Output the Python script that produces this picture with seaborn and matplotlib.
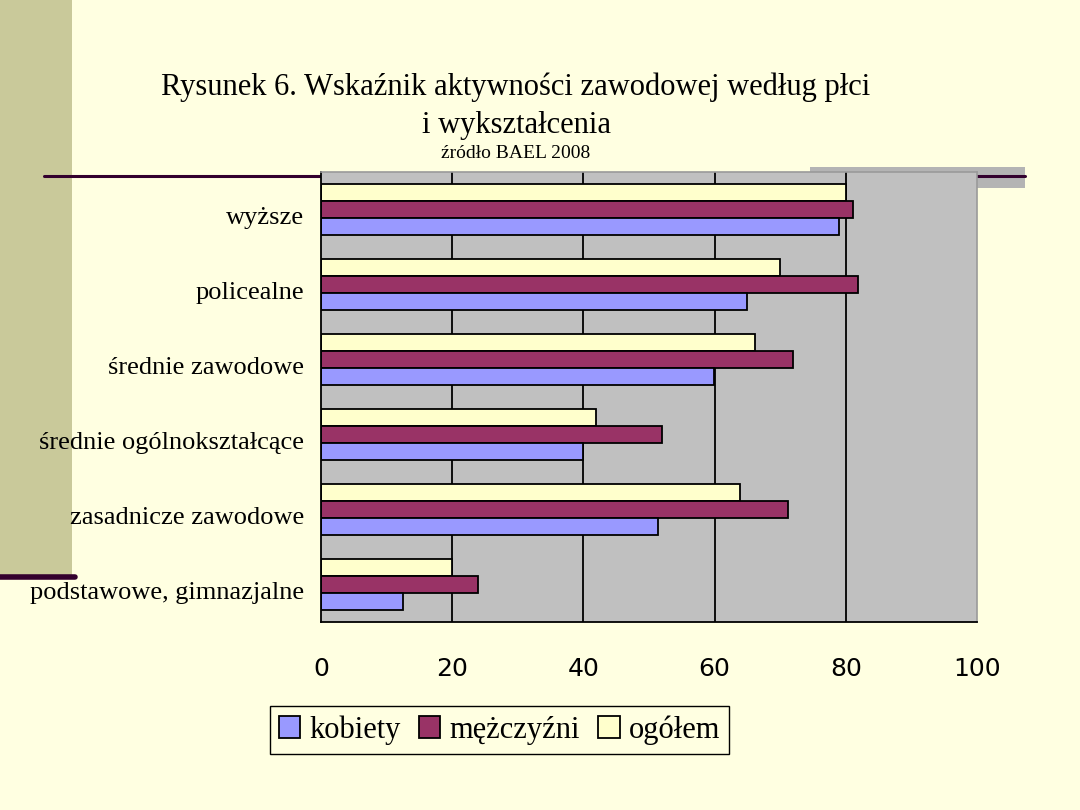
import matplotlib
matplotlib.use("Agg")
import matplotlib.pyplot as plt
import matplotlib.patches as mpatches
from matplotlib.lines import Line2D
from matplotlib.transforms import ScaledTranslation
import seaborn as sns
import pandas as pd

categories = ["wyższe", "policealne", "średnie zawodowe", "średnie ogólnokształcące",
              "zasadnicze zawodowe", "podstawowe, gimnazjalne"]
kobiety = [79.0, 65.0, 59.9, 40.0, 51.4, 12.5]
mezczyzni = [81.1, 81.9, 71.9, 52.0, 71.2, 24.0]
ogolem = [80.0, 70.0, 66.1, 41.9, 63.9, 19.9]
series_names = ["kobiety", "mężczyźni", "ogółem"]
x_ticks = [0, 20, 40, 60, 80, 100]

colors = {"kobiety": "#9999FF", "mężczyźni": "#993366", "ogółem": "#FFFFCC"}

rows = []
for name, vals in zip(series_names, [kobiety, mezczyzni, ogolem]):
    for c, v in zip(categories, vals):
        rows.append({"cat": c, "val": v, "series": name})
df = pd.DataFrame(rows)

sns.set_style("white")
plt.rcParams["font.family"] = ["Liberation Serif", "DejaVu Serif"]
plt.rcParams["text.color"] = "black"
plt.rcParams["xtick.color"] = "black"
plt.rcParams["ytick.color"] = "black"
plt.rcParams["axes.labelcolor"] = "black"

BG = "#FFFFE1"
fig = plt.figure(figsize=(10.8, 8.1), dpi=100, facecolor=BG)

# decorative slide elements
fig.patches.append(mpatches.Rectangle((0, 1 - 575 / 810), 72 / 1080, 575 / 810,
                                      transform=fig.transFigure, facecolor="#C9C99A",
                                      edgecolor="none", zorder=0))
fig.lines.append(Line2D([0, 75 / 1080], [1 - 577 / 810] * 2, transform=fig.transFigure,
                        color="#33002E", lw=4, zorder=1))
fig.patches.append(mpatches.Rectangle((810 / 1080, 1 - 188 / 810), 215 / 1080, 21 / 810,
                                      transform=fig.transFigure, facecolor="#B4B4B4",
                                      edgecolor="none", zorder=0))
fig.lines.append(Line2D([44 / 1080, 1025 / 1080], [1 - 176 / 810] * 2, transform=fig.transFigure,
                        color="#33002E", lw=2.2, zorder=1))

ax = fig.add_axes([321 / 1080, 1 - 622 / 810, 656 / 1080, 450 / 810], zorder=2)
ax.set_facecolor("#C0C0C0")

sns.barplot(data=df, y="cat", x="val", hue="series",
            hue_order=["ogółem", "mężczyźni", "kobiety"], order=categories,
            palette=colors, width=0.667, gap=0, edgecolor="black", linewidth=1.3,
            orient="h", ax=ax, legend=False, saturation=1)

ax.set_xlim(0, 100)
ax.set_ylim(len(categories) - 0.5, -0.5)
ax.set_xticks(x_ticks)
ax.set_xticklabels([str(t) for t in x_ticks], fontfamily="DejaVu Sans", fontsize=18)
ax.tick_params(axis="x", direction="out", length=6, width=1, color="black", pad=19)
ax.set_yticks(range(len(categories)))
ax.set_yticklabels(categories, fontsize=19)
ax.tick_params(axis="y", which="major", length=0, pad=12)
ax.set_yticks([i - 0.5 for i in range(len(categories) + 1)], minor=True)
ax.tick_params(axis="y", which="minor", direction="out", length=6, width=1, color="black")
ax.set_xlabel("")
ax.set_ylabel("")
shift = ScaledTranslation(0, -6 / 100, fig.dpi_scale_trans)
for lab in ax.get_yticklabels():
    lab.set_transform(lab.get_transform() + shift)

for x in x_ticks[1:-1]:
    ax.axvline(x, color="black", lw=1.3, zorder=0.5)
ax.set_axisbelow(True)

for s in ["left", "bottom"]:
    ax.spines[s].set_color("black")
    ax.spines[s].set_linewidth(1.3)
    ax.spines[s].set_visible(True)
for s in ["top", "right"]:
    ax.spines[s].set_color("#9A9A9A")
    ax.spines[s].set_linewidth(1.2)
    ax.spines[s].set_visible(True)

# titles
fig.text(516 / 1080, 1 - 87 / 810, "Rysunek 6. Wskaźnik aktywności zawodowej według płci",
         ha="center", va="center", fontsize=22)
fig.text(516 / 1080, 1 - 126 / 810, "i wykształcenia", ha="center", va="center", fontsize=22)
fig.text(516 / 1080, 1 - 153 / 810, "źródło BAEL 2008", ha="center", va="center", fontsize=14)

handles = [mpatches.Patch(facecolor=colors[n], edgecolor="black", linewidth=1.3) for n in series_names]
fig.legend(handles, series_names, loc="center", bbox_to_anchor=(499.5 / 1080, 1 - 730 / 810),
           ncol=3, frameon=True, fontsize=22, handlelength=0.7, handleheight=0.7,
           handletextpad=0.3, columnspacing=0.6, borderpad=0.3, facecolor=BG,
           edgecolor="black", fancybox=False, framealpha=1)

fig.savefig("out.png", dpi=100, facecolor=BG)
